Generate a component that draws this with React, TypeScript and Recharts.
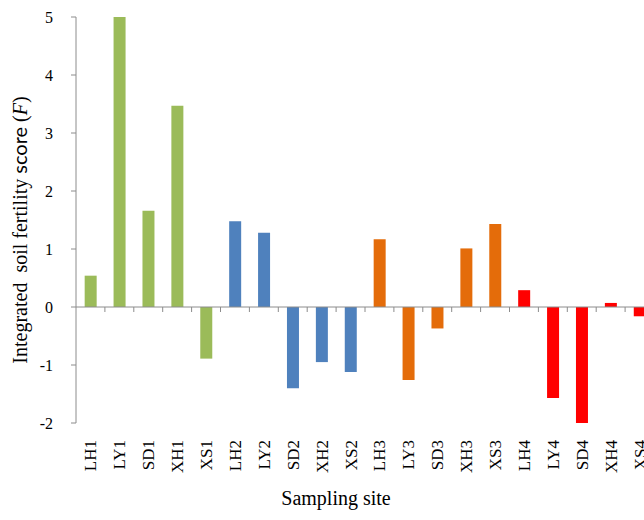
import { Bar, BarChart, Cell, ReferenceLine, XAxis, YAxis } from "recharts";

const sites = [
  "LH1", "LY1", "SD1", "XH1", "XS1",
  "LH2", "LY2", "SD2", "XH2", "XS2",
  "LH3", "LY3", "SD3", "XH3", "XS3",
  "LH4", "LY4", "SD4", "XH4", "XS4",
];
const scores = [
  0.54, 5.0, 1.66, 3.47, -0.89,
  1.48, 1.28, -1.4, -0.95, -1.12,
  1.17, -1.26, -0.37, 1.01, 1.43,
  0.29, -1.57, -2.0, 0.07, -0.16,
];
const groupColors = ["#9BBB59", "#4F81BD", "#E46C0A", "#FF0000"];
const yTicks = [-2, -1, 0, 1, 2, 3, 4, 5];

const data = sites.map((site, i) => ({ site, score: scores[i] }));

const serif = "Liberation Serif, serif";
const axisGray = "#8C8C8C";

function SiteTick(props: any) {
  const { x, y, payload } = props;
  return (
    <text
      x={0}
      y={0}
      dy="0.35em"
      textAnchor="end"
      transform={`translate(${x},${y + 9}) rotate(-90)`}
      style={{ fontFamily: serif }}
      fontSize={17}
      fill="#000"
    >
      {payload.value}
    </text>
  );
}

// zero line with Excel-style tick marks between categories
function ZeroAxis(props: any) {
  const { x1, y1, x2 } = props;
  const step = (x2 - x1) / sites.length;
  return (
    <g>
      <line x1={x1} y1={y1} x2={x2} y2={y1} stroke={axisGray} strokeWidth={1} />
      {sites.map((s, i) => (
        <line
          key={s}
          x1={x1 + step * (i + 1)}
          x2={x1 + step * (i + 1)}
          y1={y1}
          y2={y1 + 5}
          stroke={axisGray}
          strokeWidth={1}
        />
      ))}
    </g>
  );
}

function YTitle(props: any) {
  const vb = props.viewBox;
  const cy = vb.y + vb.height / 2 + 10;
  const cx = 20;
  return (
    <text
      x={0}
      y={0}
      dy="0.35em"
      textAnchor="middle"
      transform={`translate(${cx},${cy}) rotate(-90)`}
      fontSize={20}
      fill="#000"
      style={{ whiteSpace: "pre", fontFamily: serif }}
    >
      <tspan>{"Integrated  soil fertility "}</tspan>
      <tspan style={{ fontFamily: "Lato, sans-serif" }}>score</tspan>
      <tspan>{" ("}</tspan>
      <tspan fontStyle="italic">F</tspan>
      <tspan>)</tspan>
    </text>
  );
}

function XTitle(props: any) {
  const vb = props.viewBox;
  return (
    <text
      x={vb.x + vb.width / 2 - 29}
      y={505}
      textAnchor="middle"
      fontSize={20}
      fill="#000"
      style={{ fontFamily: serif }}
    >
      Sampling site
    </text>
  );
}

export default function App() {
  return (
    <div
      style={{
        position: "absolute",
        left: 0,
        top: 0,
        width: 644,
        height: 520,
        overflow: "hidden",
        background: "#fff",
      }}
    >
      <BarChart
        width={670}
        height={520}
        data={data}
        margin={{ top: 17, right: 16, bottom: 0, left: 0 }}
        barCategoryGap="30%"
      >
        <XAxis
          dataKey="site"
          height={97}
          axisLine={false}
          tickLine={false}
          interval={0}
          tick={<SiteTick />}
          label={{ content: <XTitle /> }}
        />
        <YAxis
          width={76}
          domain={[-2, 5]}
          ticks={yTicks}
          allowDataOverflow
          stroke={axisGray}
          tickSize={5}
          tickMargin={18}
          tick={{ fill: "#000", fontSize: 16, style: { fontFamily: serif } }}
          label={{ content: <YTitle /> }}
        />
        <Bar dataKey="score" isAnimationActive={false}>
          {data.map((d, i) => (
            <Cell key={d.site} fill={groupColors[Math.floor(i / 5)]} />
          ))}
        </Bar>
        <ReferenceLine y={0} shape={<ZeroAxis />} />
      </BarChart>
    </div>
  );
}
